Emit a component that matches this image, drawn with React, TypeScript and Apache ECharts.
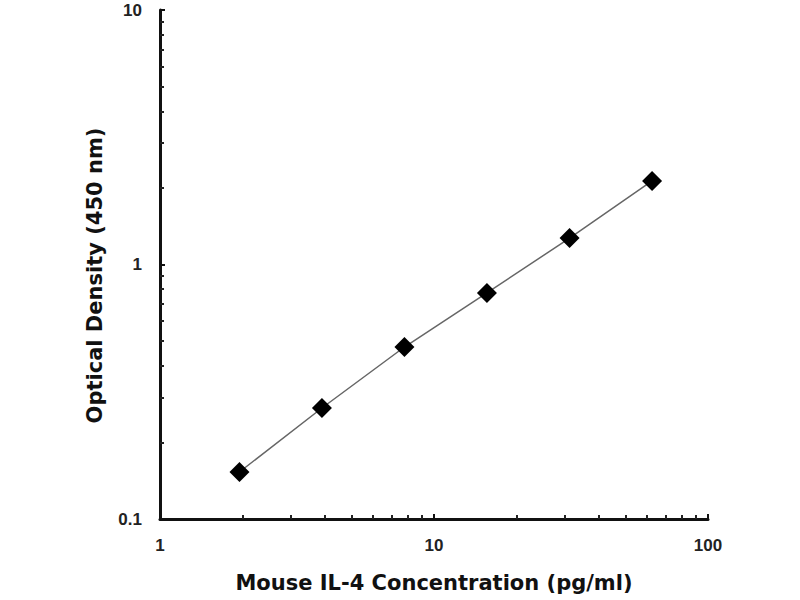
import React, { useEffect, useRef } from "react";
import * as echarts from "echarts";

const concentrations = [1.95, 3.9, 7.8, 15.6, 31.25, 62.5];
const opticalDensity = [0.153, 0.273, 0.474, 0.773, 1.27, 2.13];
const xTitle = "Mouse IL-4 Concentration (pg/ml)";
const yTitle = "Optical Density (450 nm)";

export default function App() {
  const ref = useRef<HTMLDivElement>(null);
  useEffect(() => {
    if (!ref.current) return;
    const chart = echarts.init(ref.current, null, { renderer: "svg" });
    const titleFont = "DejaVu Sans, Liberation Sans, Arial, sans-serif";
    const labelFont = "Liberation Sans, Arial, sans-serif";
    const axisCommon = {
      axisLine: { show: true, lineStyle: { color: "#111", width: 3 } },
      axisTick: { show: true, inside: true, length: 5, lineStyle: { color: "#111", width: 2 } },
      minorTick: { show: true, splitNumber: 9, length: 4, lineStyle: { color: "#222", width: 2 } },
      splitLine: { show: false },
      minorSplitLine: { show: false },
      nameLocation: "middle" as const,
    };
    chart.setOption({
      animation: false,
      backgroundColor: "#fff",
      grid: { left: 160, right: 92, top: 10, bottom: 81 },
      xAxis: {
        ...axisCommon,
        type: "log",
        logBase: 10,
        min: 1,
        max: 100,
        name: xTitle,
        nameGap: 53,
        nameTextStyle: { fontFamily: titleFont, fontWeight: "bold", fontSize: 21, color: "#111" },
        axisLabel: {
          margin: 18,
          fontFamily: labelFont,
          fontWeight: "bold",
          fontSize: 17,
          color: "#222",
          formatter: (v: number) => String(Math.round(v)),
        },
      },
      yAxis: {
        ...axisCommon,
        type: "log",
        logBase: 10,
        min: 0.1,
        max: 10,
        name: yTitle,
        nameGap: 55,
        nameTextStyle: {
          fontFamily: titleFont,
          fontWeight: "bold",
          fontSize: 21,
          color: "#111",
          padding: [0, 22, 0, 0],
        },
        axisLabel: {
          margin: 18,
          fontFamily: labelFont,
          fontWeight: "bold",
          fontSize: 17,
          color: "#222",
          formatter: (v: number) => (v < 1 ? String(Number(v.toFixed(1))) : String(Math.round(v))),
        },
      },
      series: [
        {
          type: "line",
          data: concentrations.map((c, i) => [c, opticalDensity[i]]),
          symbol: "diamond",
          symbolSize: 20,
          itemStyle: { color: "#000" },
          lineStyle: { color: "#666", width: 1.5 },
        },
      ],
    });
    return () => chart.dispose();
  }, []);
  return (
    <div
      ref={ref}
      style={{ position: "fixed", left: 0, top: 0, width: 800, height: 600 }}
    />
  );
}
